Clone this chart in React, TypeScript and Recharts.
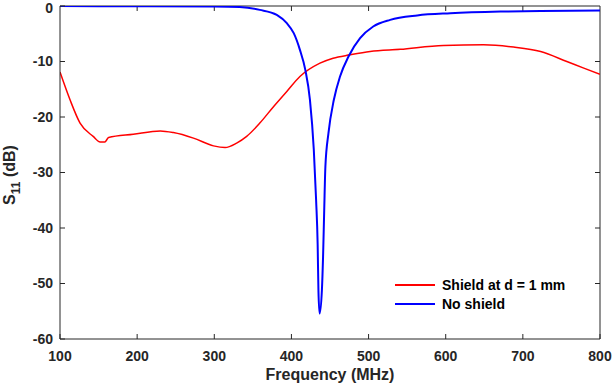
import { LineChart, Line, XAxis, YAxis, ReferenceLine } from "recharts";

const freqTicks = [100, 200, 300, 400, 500, 600, 700, 800];
const dbTicks = [-60, -50, -40, -30, -20, -10, 0];

const shieldFreq = [100, 113, 126, 143, 152, 158, 163, 195, 230, 247, 273, 299, 314, 329, 342, 359, 377, 394, 411, 437, 454, 476, 502, 541, 597, 649, 688, 723, 757, 779, 800];
const shieldDb = [-11.9, -16.9, -21.1, -23.5, -24.5, -24.5, -23.7, -23.1, -22.5, -22.8, -23.8, -25.2, -25.5, -24.7, -23.5, -21.1, -18.1, -15.4, -12.7, -10.3, -9.4, -8.8, -8.2, -7.8, -7.1, -7.0, -7.4, -8.2, -10.0, -11.2, -12.3];

const noShieldFreq = [100, 200, 300, 333, 359, 381, 394, 403, 411, 418, 424, 429, 432, 434, 435, 436.5, 439.5, 441, 442.5, 444, 448, 455, 463, 474, 489, 506, 528, 563, 606, 671, 723, 800];
const noShieldDb = [0, -0.05, -0.1, -0.2, -0.7, -1.6, -3.1, -4.9, -7.9, -11.5, -16.9, -25.9, -35, -43, -51.2, -55.4, -51.2, -45.2, -36.8, -29, -22.9, -16.9, -12.7, -9.1, -5.8, -3.7, -2.5, -1.7, -1.3, -1.0, -0.9, -0.8];

const shieldData = shieldFreq.map((f, i) => ({ f, db: shieldDb[i] }));
const noShieldData = noShieldFreq.map((f, i) => ({ f, db: noShieldDb[i] }));

const FONT = "'Liberation Sans', Arial, Helvetica, sans-serif";
const AXIS = "#262626";
// inward tick length on the top / right frame, in data units (~5px)
const TICK_F = 6.5;
const TICK_DB = 0.9;

const tickStyle = { fontSize: 14, fontWeight: 700, fill: AXIS, fontFamily: FONT };

const legendItems = [
  { label: "Shield at d = 1 mm", color: "#ff0000" },
  { label: "No shield", color: "#0000ff" },
];

function LegendBox() {
  return (
    <div
      style={{
        position: "absolute",
        left: 395,
        top: 275,
        fontFamily: FONT,
        fontWeight: 700,
        fontSize: 14,
        color: "#000",
      }}
    >
      {legendItems.map((it) => (
        <div key={it.label} style={{ display: "flex", alignItems: "center", height: 19 }}>
          <span style={{ display: "inline-block", width: 40, height: 2, background: it.color, marginRight: 7 }} />
          <span>{it.label}</span>
        </div>
      ))}
    </div>
  );
}

function YLabel() {
  return (
    <text
      transform="translate(15, 175) rotate(-90)"
      textAnchor="middle"
      fontFamily={FONT}
      fontWeight={700}
      fontSize={16}
      fill={AXIS}
    >
      S<tspan fontSize={12} dy={5}>11</tspan>
      <tspan dy={-5}>{"  (dB)"}</tspan>
    </text>
  );
}

function XLabel(props: any) {
  const vb = props.viewBox || {};
  return (
    <text
      x={vb.x + vb.width / 2}
      y={vb.y + 41}
      textAnchor="middle"
      fontFamily={FONT}
      fontWeight={700}
      fontSize={16}
      fill={AXIS}
    >
      Frequency (MHz)
    </text>
  );
}

export default function App() {
  return (
    <div style={{ position: "absolute", left: 0, top: 0, width: 613, height: 388, background: "#fff" }}>
      <LineChart width={613} height={388} data={shieldData} margin={{ top: 6, right: 13, bottom: 0, left: 0 }}>
        <XAxis
          dataKey="f"
          type="number"
          domain={[100, 800]}
          ticks={freqTicks}
          allowDataOverflow
          height={49}
          stroke={AXIS}
          tickSize={-5}
          tickMargin={17}
          tick={tickStyle}
          label={<XLabel />}
        />
        <YAxis
          type="number"
          domain={[-60, 0]}
          ticks={dbTicks}
          allowDataOverflow
          width={60}
          stroke={AXIS}
          tickSize={-5}
          tickMargin={12}
          tick={tickStyle}
          label={<YLabel />}
        />
        <ReferenceLine y={0} stroke={AXIS} strokeWidth={1} />
        <ReferenceLine x={800} stroke={AXIS} strokeWidth={1} />
        {freqTicks.slice(1, -1).map((t) => (
          <ReferenceLine key={"tt" + t} segment={[{ x: t, y: 0 }, { x: t, y: -TICK_DB }]} stroke={AXIS} />
        ))}
        {dbTicks.slice(1, -1).map((t) => (
          <ReferenceLine key={"rt" + t} segment={[{ x: 800 - TICK_F, y: t }, { x: 800, y: t }]} stroke={AXIS} />
        ))}
        <Line data={shieldData} dataKey="db" type="monotone" stroke="#ff0000" strokeWidth={1.5} dot={false} isAnimationActive={false} />
        <Line data={noShieldData} dataKey="db" type="monotone" stroke="#0000ff" strokeWidth={2} dot={false} isAnimationActive={false} />
      </LineChart>
      <LegendBox />
    </div>
  );
}
